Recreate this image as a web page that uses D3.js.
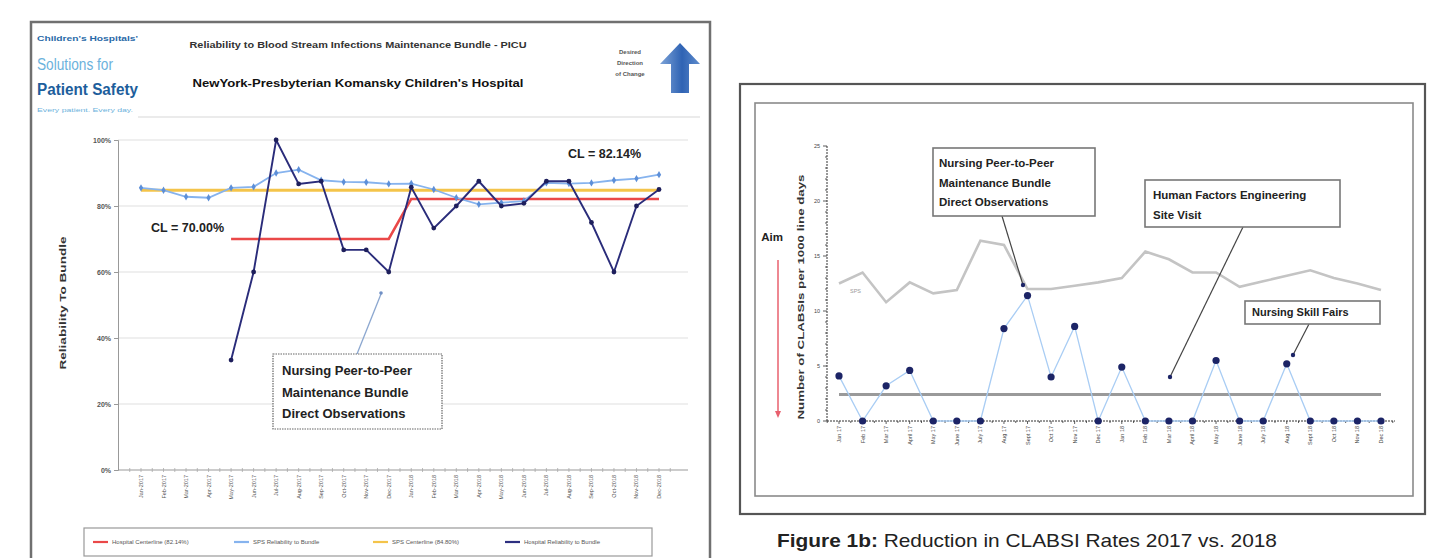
<!DOCTYPE html>
<html>
<head>
<meta charset="utf-8">
<script src="https://cdn.jsdelivr.net/npm/d3@7"></script>
<style>
  body { margin: 0; background: #fff; }
  svg { display: block; }
  text { font-family: "Liberation Sans", Arial, sans-serif; }
</style>
</head>
<body>
<svg id="chart" width="1432" height="558"></svg>
<script>
// ---------------- data: PICU maintenance bundle reliability ----------------
const bundleMonths = ["Jan-2017","Feb-2017","Mar-2017","Apr-2017","May-2017","Jun-2017","Jul-2017","Aug-2017",
  "Sep-2017","Oct-2017","Nov-2017","Dec-2017","Jan-2018","Feb-2018","Mar-2018","Apr-2018","May-2018","Jun-2018",
  "Jul-2018","Aug-2018","Sep-2018","Oct-2018","Nov-2018","Dec-2018"];
const spsReliability = [85.5, 84.8, 82.8, 82.5, 85.5, 85.8, 90.0, 91.0, 87.8, 87.3, 87.2, 86.7,
  86.8, 85.0, 82.5, 80.5, 81.0, 81.5, 87.0, 86.8, 87.0, 87.8, 88.3, 89.5];
const hospitalReliability = [null, null, null, null, 33.3, 60.0, 100.0, 86.7, 87.5, 66.7, 66.7, 60.0,
  85.7, 73.3, 80.0, 87.5, 80.0, 80.8, 87.5, 87.5, 75.0, 60.0, 80.0, 85.0];
const hospitalCenterline = [null, null, null, null, 70, 70, 70, 70, 70, 70, 70, 70,
  82.14, 82.14, 82.14, 82.14, 82.14, 82.14, 82.14, 82.14, 82.14, 82.14, 82.14, 82.14];
const spsCenterline = 84.8;
const pctTicks = [0, 20, 40, 60, 80, 100];
const legendLabels = ["Hospital Centerline (82.14%)", "SPS Reliability to Bundle",
  "SPS Centerline (84.80%)", "Hospital Reliability to Bundle"];

// ---------------- data: CLABSI rates ----------------
const clabsiMonths = ["Jan 17","Feb 17","Mar 17","April 17","May 17","June 17","July 17","Aug 17","Sept 17",
  "Oct 17","Nov 17","Dec 17","Jan 18","Feb 18","Mar 18","April 18","May 18","June 18","July 18","Aug 18",
  "Sept 18","Oct 18","Nov 18","Dec 18"];
const clabsiRate = [4.1, 0, 3.2, 4.6, 0, 0, 0, 8.4, 11.4, 4.0, 8.6, 0,
  4.9, 0, 0, 0, 5.5, 0, 0, 5.2, 0, 0, 0, 0];
const networkRate = [12.5, 13.5, 10.8, 12.6, 11.6, 11.9, 16.4, 16.0, 12.0, 12.0, 12.3, 12.6,
  13.0, 15.4, 14.7, 13.5, 13.5, 12.2, 12.7, 13.2, 13.7, 13.0, 12.5, 11.9];
const clabsiMean = 2.4;
const rateTicks = [0, 5, 10, 15, 20, 25];

const svg = d3.select("#chart");

// =====================================================================
// Left panel: reliability run chart
// =====================================================================
const left = svg.append("g");
left.append("rect").attr("x", 31).attr("y", 22).attr("width", 679).attr("height", 560)
  .attr("fill", "#fff").attr("stroke", "#707070").attr("stroke-width", 2.5);

// logo
const logo = left.append("g");
logo.append("text").attr("x", 37).attr("y", 41).attr("font-size", 7).attr("font-weight", "bold")
  .attr("fill", "#2a6aa8").attr("textLength", 101).attr("lengthAdjust", "spacingAndGlyphs")
  .text("Children's Hospitals'");
logo.append("text").attr("x", 37).attr("y", 70).attr("font-size", 16)
  .attr("fill", "#6cb2dc").attr("textLength", 76).attr("lengthAdjust", "spacingAndGlyphs")
  .text("Solutions for");
logo.append("text").attr("x", 37).attr("y", 95).attr("font-size", 16).attr("font-weight", "bold")
  .attr("fill", "#1d5e9c").attr("textLength", 101).attr("lengthAdjust", "spacingAndGlyphs")
  .text("Patient Safety");
logo.append("text").attr("x", 37).attr("y", 112).attr("font-size", 6)
  .attr("fill", "#6cb2dc").attr("textLength", 96).attr("lengthAdjust", "spacingAndGlyphs")
  .text("Every patient. Every day.");

// titles
left.append("text").attr("x", 358).attr("y", 48).attr("text-anchor", "middle")
  .attr("font-size", 8.5).attr("fill", "#333").attr("font-weight", "bold")
  .attr("textLength", 337).attr("lengthAdjust", "spacingAndGlyphs")
  .text("Reliability to Blood Stream Infections Maintenance Bundle - PICU");
left.append("text").attr("x", 358).attr("y", 87).attr("text-anchor", "middle")
  .attr("font-size", 11.5).attr("fill", "#111").attr("font-weight", "bold")
  .attr("textLength", 331).attr("lengthAdjust", "spacingAndGlyphs")
  .text("NewYork-Presbyterian Komansky Children's Hospital");
left.append("line").attr("x1", 138).attr("x2", 700).attr("y1", 117).attr("y2", 117)
  .attr("stroke", "#e4e4e4").attr("stroke-width", 1.5);

// desired direction of change
["Desired", "Direction", "of Change"].forEach((t, i) => {
  left.append("text").attr("x", 630).attr("y", 54 + i * 11).attr("text-anchor", "middle")
    .attr("font-size", 6).attr("font-weight", "bold").attr("fill", "#555").text(t);
});
const grad = svg.append("defs").append("linearGradient").attr("id", "arrowFill")
  .attr("x1", 0).attr("x2", 1).attr("y1", 0).attr("y2", 0);
grad.append("stop").attr("offset", "0%").attr("stop-color", "#7ea4d8");
grad.append("stop").attr("offset", "55%").attr("stop-color", "#2f63b4");
grad.append("stop").attr("offset", "100%").attr("stop-color", "#5f8ccc");
left.append("path")
  .attr("d", "M680,43 L700,64 L689,64 L689,93 L671,93 L671,64 L660,64 Z")
  .attr("fill", "url(#arrowFill)");

// scales
const xL = d3.scalePoint().domain(bundleMonths).range([141, 659]);
const yL = d3.scaleLinear().domain([0, 100]).range([470, 140]);

// gridlines
left.append("g").selectAll("line").data(pctTicks.filter(d => d > 0)).join("line")
  .attr("x1", 118).attr("x2", 688).attr("y1", d => yL(d)).attr("y2", d => yL(d))
  .attr("stroke", "#efefef").attr("stroke-width", 2);

// y axis
const yAxisL = left.append("g").attr("transform", "translate(118,0)")
  .call(d3.axisLeft(yL).tickValues(pctTicks).tickFormat(d => d + "%").tickSize(4));
yAxisL.select(".domain").attr("stroke", "#999");
yAxisL.selectAll(".tick line").attr("stroke", "#999");
yAxisL.selectAll(".tick text").attr("font-size", 7).attr("fill", "#555").attr("font-weight", "bold")
  .attr("font-family", "Liberation Sans, Arial, sans-serif");

left.append("text").attr("transform", "translate(66,303) rotate(-90)").attr("text-anchor", "middle")
  .attr("font-size", 8.5).attr("font-weight", "bold").attr("fill", "#333")
  .attr("textLength", 133).attr("lengthAdjust", "spacingAndGlyphs").text("Reliability To Bundle");

// x axis
left.append("line").attr("x1", 118).attr("x2", 688).attr("y1", 470).attr("y2", 470)
  .attr("stroke", "#999").attr("stroke-width", 1.2);
const stepL = xL.step();
left.append("g").selectAll("line").data(d3.range(0, 49)).join("line")
  .attr("x1", i => 141 - stepL / 2 + i * stepL / 2).attr("x2", i => 141 - stepL / 2 + i * stepL / 2)
  .attr("y1", 468).attr("y2", 472).attr("stroke", "#aaa").attr("stroke-width", 0.8);
left.append("g").selectAll("text").data(bundleMonths).join("text")
  .attr("transform", d => `translate(${xL(d) + 2},475) rotate(-90)`)
  .attr("text-anchor", "end").attr("font-size", 5.5).attr("fill", "#555").text(d => d);

// SPS centerline (yellow)
left.append("line").attr("x1", xL(bundleMonths[0])).attr("x2", xL(bundleMonths[23]))
  .attr("y1", yL(spsCenterline)).attr("y2", yL(spsCenterline))
  .attr("stroke", "#f4c44a").attr("stroke-width", 3);

// hospital centerline (red)
const lineL = d3.line().defined(d => d.v != null).x(d => xL(d.m)).y(d => yL(d.v));
left.append("path")
  .datum(bundleMonths.map((m, i) => ({ m, v: hospitalCenterline[i] })))
  .attr("d", lineL).attr("fill", "none").attr("stroke", "#ea4848").attr("stroke-width", 2.6);

// SPS reliability (light blue)
const spsData = bundleMonths.map((m, i) => ({ m, v: spsReliability[i] }));
left.append("path").datum(spsData).attr("d", lineL)
  .attr("fill", "none").attr("stroke", "#86b3ee").attr("stroke-width", 1.8);
left.append("g").selectAll("path").data(spsData).join("path")
  .attr("d", d3.symbol().type(d3.symbolDiamond).size(16))
  .attr("transform", d => `translate(${xL(d.m)},${yL(d.v)})`).attr("fill", "#5d8fd8");

// hospital reliability (navy)
const hospData = bundleMonths.map((m, i) => ({ m, v: hospitalReliability[i] }));
left.append("path").datum(hospData).attr("d", lineL)
  .attr("fill", "none").attr("stroke", "#2a2c7a").attr("stroke-width", 1.9);
left.append("g").selectAll("circle").data(hospData.filter(d => d.v != null)).join("circle")
  .attr("cx", d => xL(d.m)).attr("cy", d => yL(d.v)).attr("r", 2.4).attr("fill", "#1e1f5c");

// centerline labels
left.append("text").attr("x", 568).attr("y", 158).attr("font-size", 12.5).attr("font-weight", "bold")
  .attr("fill", "#222").text("CL = 82.14%");
left.append("text").attr("x", 151).attr("y", 232).attr("font-size", 12.5).attr("font-weight", "bold")
  .attr("fill", "#222").text("CL = 70.00%");

// intervention annotation
left.append("line").attr("x1", 357).attr("y1", 354).attr("x2", 381).attr("y2", 294)
  .attr("stroke", "#8aa6cf").attr("stroke-width", 1.3);
left.append("circle").attr("cx", 381).attr("cy", 293).attr("r", 1.8).attr("fill", "#6f8fc4");
left.append("rect").attr("x", 273).attr("y", 354).attr("width", 169).attr("height", 75)
  .attr("fill", "#fff").attr("stroke", "#666").attr("stroke-width", 1.2).attr("stroke-dasharray", "1.5,1");
["Nursing Peer-to-Peer", "Maintenance Bundle", "Direct Observations"].forEach((t, i) => {
  left.append("text").attr("x", 282).attr("y", 375 + i * 21.5).attr("font-size", 13)
    .attr("font-weight", "bold").attr("fill", "#222").text(t);
});

// legend
left.append("rect").attr("x", 84).attr("y", 528).attr("width", 568).attr("height", 28)
  .attr("fill", "#fff").attr("stroke", "#999").attr("stroke-width", 1.2);
const legendColors = ["#ea4848", "#86b3ee", "#f4c44a", "#2d2f80"];
const legendX = [93, 234, 373, 505];
legendLabels.forEach((t, i) => {
  left.append("line").attr("x1", legendX[i]).attr("x2", legendX[i] + 15).attr("y1", 542).attr("y2", 542)
    .attr("stroke", legendColors[i]).attr("stroke-width", 2.2);
  left.append("text").attr("x", legendX[i] + 19).attr("y", 544).attr("font-size", 6)
    .attr("fill", "#555").text(t);
});

// =====================================================================
// Right panel: CLABSI rates
// =====================================================================
const right = svg.append("g");
right.append("rect").attr("x", 740).attr("y", 84).attr("width", 685).attr("height", 430)
  .attr("fill", "#fff").attr("stroke", "#555").attr("stroke-width", 2.2);
right.append("rect").attr("x", 755).attr("y", 103).attr("width", 658).attr("height", 393)
  .attr("fill", "#fff").attr("stroke", "#8a8a8a").attr("stroke-width", 1.6);

const xR = d3.scalePoint().domain(clabsiMonths).range([839, 1381]);
const yR = d3.scaleLinear().domain([0, 25]).range([421, 146]);

// y axis with minor ticks
right.append("line").attr("x1", 827).attr("x2", 827).attr("y1", yR(25)).attr("y2", yR(0))
  .attr("stroke", "#333").attr("stroke-width", 1).attr("stroke-dasharray", "2,1");
right.append("g").selectAll("line").data(d3.range(0, 26)).join("line")
  .attr("x1", d => d % 5 === 0 ? 823 : 825).attr("x2", 827)
  .attr("y1", d => yR(d)).attr("y2", d => yR(d)).attr("stroke", "#333").attr("stroke-width", 0.8);
right.append("g").selectAll("text").data(rateTicks).join("text")
  .attr("x", 820).attr("y", d => yR(d) + 2).attr("text-anchor", "end")
  .attr("font-size", 5.5).attr("fill", "#444").text(d => d);
right.append("text").attr("transform", "translate(804,297) rotate(-90)").attr("text-anchor", "middle")
  .attr("font-size", 9).attr("font-weight", "bold").attr("fill", "#333")
  .attr("textLength", 245).attr("lengthAdjust", "spacingAndGlyphs")
  .text("Number of CLABSIs per 1000 line days");

// aim arrow
right.append("text").attr("x", 772).attr("y", 241).attr("text-anchor", "middle")
  .attr("font-size", 11.5).attr("font-weight", "bold").attr("fill", "#222").text("Aim");
right.append("line").attr("x1", 778).attr("x2", 778).attr("y1", 260).attr("y2", 412)
  .attr("stroke", "#e8606e").attr("stroke-width", 1.5);
right.append("path").attr("d", "M775,411 L781,411 L778,418 Z").attr("fill", "#e8606e");

// x axis
right.append("line").attr("x1", 827).attr("x2", 1395).attr("y1", 421).attr("y2", 421)
  .attr("stroke", "#333").attr("stroke-width", 1).attr("stroke-dasharray", "2,1");
const stepR = xR.step();
right.append("g").selectAll("line").data(d3.range(0, 49)).join("line")
  .attr("x1", i => 839 - stepR / 2 + i * stepR / 2).attr("x2", i => 839 - stepR / 2 + i * stepR / 2)
  .attr("y1", 421).attr("y2", i => i % 2 ? 424 : 423).attr("stroke", "#333").attr("stroke-width", 0.8);
right.append("g").selectAll("text").data(clabsiMonths).join("text")
  .attr("transform", d => `translate(${xR(d) + 2},426) rotate(-90)`)
  .attr("text-anchor", "end").attr("font-size", 5.5).attr("fill", "#444").text(d => d);

// network comparison line (grey)
const lineR = d3.line().x((d, i) => xR(clabsiMonths[i])).y(d => yR(d));
right.append("path").datum(networkRate).attr("d", lineR)
  .attr("fill", "none").attr("stroke", "#c4c4c4").attr("stroke-width", 2.6);
right.append("text").attr("x", 850).attr("y", 293).attr("font-size", 5.5).attr("fill", "#999").text("SPS");

// mean line
right.append("line").attr("x1", xR(clabsiMonths[0])).attr("x2", xR(clabsiMonths[23]))
  .attr("y1", yR(clabsiMean)).attr("y2", yR(clabsiMean))
  .attr("stroke", "#9a9a9a").attr("stroke-width", 3);

// hospital CLABSI rate
right.append("path").datum(clabsiRate).attr("d", lineR)
  .attr("fill", "none").attr("stroke", "#a9cdf4").attr("stroke-width", 1.3);
right.append("g").selectAll("circle").data(clabsiRate).join("circle")
  .attr("cx", (d, i) => xR(clabsiMonths[i])).attr("cy", d => yR(d)).attr("r", 3.6).attr("fill", "#1c2466");

// annotations
function callout(lines, box, from, to, fontSize, lineGap, textX, textY) {
  right.append("line").attr("x1", from[0]).attr("y1", from[1]).attr("x2", to[0]).attr("y2", to[1])
    .attr("stroke", "#444").attr("stroke-width", 1.2);
  right.append("circle").attr("cx", to[0]).attr("cy", to[1]).attr("r", 2.2).attr("fill", "#1c2466");
  right.append("rect").attr("x", box[0]).attr("y", box[1]).attr("width", box[2]).attr("height", box[3])
    .attr("fill", "#fff").attr("stroke", "#777").attr("stroke-width", 1.6);
  lines.forEach((t, i) => {
    right.append("text").attr("x", textX).attr("y", textY + i * lineGap).attr("font-size", fontSize)
      .attr("font-weight", "bold").attr("fill", "#222").text(t);
  });
}
callout(["Nursing Peer-to-Peer", "Maintenance Bundle", "Direct Observations"],
  [933, 148, 162, 68], [1002, 216], [1023, 285], 11.5, 19.5, 939, 167);
callout(["Human Factors Engineering", "Site Visit"],
  [1145, 180, 195, 47], [1243, 227], [1170, 377], 11.5, 20, 1153, 199);
callout(["Nursing Skill Fairs"],
  [1245, 301, 135, 23], [1309, 324], [1293, 355], 11, 0, 1252, 316);

// caption
const cap = svg.append("text").attr("x", 777).attr("y", 547).attr("font-size", 19).attr("fill", "#222")
  .attr("textLength", 500).attr("lengthAdjust", "spacingAndGlyphs");
cap.append("tspan").attr("font-weight", "bold").text("Figure 1b:");
cap.append("tspan").text(" Reduction in CLABSI Rates 2017 vs. 2018");
</script>
</body>
</html>
